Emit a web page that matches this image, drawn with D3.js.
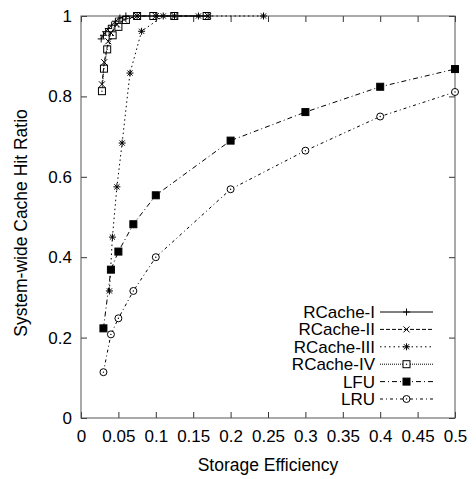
<!DOCTYPE html>
<html>
<head>
<meta charset="utf-8">
<script src="https://cdn.jsdelivr.net/npm/d3@7/dist/d3.min.js"></script>
<style>
  body { margin: 0; background: #fff; }
  text { font-family: "Liberation Sans", Arial, sans-serif; fill: #000; }
</style>
</head>
<body>
<svg id="chart" width="476" height="479"></svg>
<script>
// tick labels
const xTicks = [0, 0.05, 0.1, 0.15, 0.2, 0.25, 0.3, 0.35, 0.4, 0.45, 0.5];
const yTicks = [0, 0.2, 0.4, 0.6, 0.8, 1];

// series
const rc1X = [0.027, 0.030, 0.033, 0.0365, 0.041, 0.046, 0.052, 0.06, 0.075, 0.1, 0.125, 0.17];
const rc1Y = [0.943, 0.952, 0.961, 0.969, 0.977, 0.987, 0.995, 1, 1, 1, 1, 1];
const rc2X = [0.028, 0.031, 0.0365, 0.04, 0.048, 0.0575, 0.075, 0.1, 0.125, 0.17];
const rc2Y = [0.83, 0.885, 0.937, 0.958, 0.979, 0.991, 1, 1, 1, 1];
const rc3X = [0.038, 0.042, 0.048, 0.055, 0.0655, 0.081, 0.11, 0.157, 0.244];
const rc3Y = [0.316, 0.45, 0.575, 0.684, 0.858, 0.962, 1, 1, 1];
const rc4X = [0.028, 0.0307, 0.035, 0.0423, 0.05, 0.06, 0.075, 0.0967, 0.1247, 0.168];
const rc4Y = [0.813, 0.869, 0.917, 0.952, 0.973, 0.99, 1, 1, 1, 1];
const lfuX = [0.03, 0.04, 0.05, 0.07, 0.1, 0.2, 0.3, 0.4, 0.5];
const lfuY = [0.223, 0.369, 0.414, 0.482, 0.554, 0.69, 0.761, 0.824, 0.868];
const lruX = [0.03, 0.04, 0.05, 0.07, 0.1, 0.2, 0.3, 0.4, 0.5];
const lruY = [0.114, 0.208, 0.248, 0.316, 0.40, 0.569, 0.665, 0.750, 0.811];

const series = [
  { name: 'RCache-I',   xs: rc1X, ys: rc1Y, dash: null,      mark: 'plus' },
  { name: 'RCache-II',  xs: rc2X, ys: rc2Y, dash: '4,2',     mark: 'cross' },
  { name: 'RCache-III', xs: rc3X, ys: rc3Y, dash: '1.5,3',   mark: 'star' },
  { name: 'RCache-IV',  xs: rc4X, ys: rc4Y, dash: '1,1',     mark: 'box' },
  { name: 'LFU',        xs: lfuX, ys: lfuY, dash: '5,3,1,3', mark: 'fbox' },
  { name: 'LRU',        xs: lruX, ys: lruY, dash: '3,3,1,3', mark: 'circle' }
];

const svg = d3.select('#chart');
const padL = 81, padR = 455, padT = 16, padB = 418;

const x = d3.scaleLinear().domain([0, 0.5]).range([padL, padR]);
const y = d3.scaleLinear().domain([0, 1]).range([padB, padT]);

// axes with inward ticks on all four sides
const fmt = d3.format('~g');
svg.append('g')
  .attr('transform', `translate(0,${padB})`)
  .call(d3.axisBottom(x).tickValues(xTicks).tickFormat(fmt).tickSize(-6).tickPadding(12))
  .call(g => g.select('.domain').remove())
  .call(g => g.selectAll('text').style('font-size', '17px'));
svg.append('g')
  .attr('transform', `translate(0,${padT})`)
  .call(d3.axisTop(x).tickValues(xTicks).tickFormat('').tickSize(-6))
  .call(g => g.select('.domain').remove());
svg.append('g')
  .attr('transform', `translate(${padL},0)`)
  .call(d3.axisLeft(y).tickValues(yTicks).tickFormat(fmt).tickSize(-6).tickPadding(9))
  .call(g => g.select('.domain').remove())
  .call(g => g.selectAll('text').style('font-size', '17px'));
svg.append('g')
  .attr('transform', `translate(${padR},0)`)
  .call(d3.axisRight(y).tickValues(yTicks).tickFormat('').tickSize(-6))
  .call(g => g.select('.domain').remove());
svg.selectAll('.tick line').attr('stroke', '#333');

svg.append('rect')
  .attr('x', padL).attr('y', padT)
  .attr('width', padR - padL).attr('height', padB - padT)
  .attr('fill', 'none').attr('stroke', '#555').attr('stroke-width', 1);

// axis titles
svg.append('text')
  .attr('x', (padL + padR) / 2).attr('y', 471)
  .attr('text-anchor', 'middle').style('font-size', '17.5px')
  .text('Storage Efficiency');
svg.append('text')
  .attr('transform', `translate(27,${(padT + padB) / 2 + 6})rotate(-90)`)
  .attr('text-anchor', 'middle').style('font-size', '17.5px')
  .text('System-wide Cache Hit Ratio');

// marker drawing
function drawMark(g, kind, cx, cy) {
  const s = 3.5;
  if (kind === 'plus' || kind === 'star') {
    g.append('path').attr('d', `M${cx - s},${cy}H${cx + s}M${cx},${cy - s}V${cy + s}`)
      .attr('stroke', '#000').attr('stroke-width', 1);
  }
  if (kind === 'cross' || kind === 'star') {
    const t = kind === 'star' ? 2.6 : 3;
    g.append('path').attr('d', `M${cx - t},${cy - t}L${cx + t},${cy + t}M${cx - t},${cy + t}L${cx + t},${cy - t}`)
      .attr('stroke', '#000').attr('stroke-width', 1);
  }
  if (kind === 'box' || kind === 'fbox') {
    g.append('rect').attr('x', cx - s).attr('y', cy - s).attr('width', 2 * s).attr('height', 2 * s)
      .attr('fill', kind === 'fbox' ? '#000' : '#fff').attr('stroke', '#000').attr('stroke-width', 1);
    if (kind === 'box') g.append('circle').attr('cx', cx).attr('cy', cy).attr('r', 0.7).attr('fill', '#000');
  }
  if (kind === 'circle') {
    g.append('circle').attr('cx', cx).attr('cy', cy).attr('r', s)
      .attr('fill', '#fff').attr('stroke', '#000').attr('stroke-width', 1);
    g.append('circle').attr('cx', cx).attr('cy', cy).attr('r', 0.7).attr('fill', '#000');
  }
}

const line = d3.line().x(d => x(d[0])).y(d => y(d[1]));

// draw in reverse so RCache-I ends up on top
series.slice().reverse().forEach(s => {
  const pts = s.xs.map((v, i) => [v, s.ys[i]]);
  const g = svg.append('g');
  g.append('path').datum(pts).attr('d', line)
    .attr('fill', 'none').attr('stroke', '#000').attr('stroke-width', 1)
    .attr('stroke-dasharray', s.dash);
  pts.forEach(p => drawMark(g, s.mark, x(p[0]), y(p[1])));
});

// legend
const legend = svg.append('g');
series.forEach((s, i) => {
  const ly = 312 + i * 17.4;
  legend.append('text').attr('x', 375).attr('y', ly).attr('dy', '0.35em')
    .attr('text-anchor', 'end').style('font-size', '17px').text(s.name);
  legend.append('line').attr('x1', 380).attr('x2', 433).attr('y1', ly).attr('y2', ly)
    .attr('stroke', '#000').attr('stroke-width', 1).attr('stroke-dasharray', s.dash);
  drawMark(legend, s.mark, 406.5, ly);
});
</script>
</body>
</html>
